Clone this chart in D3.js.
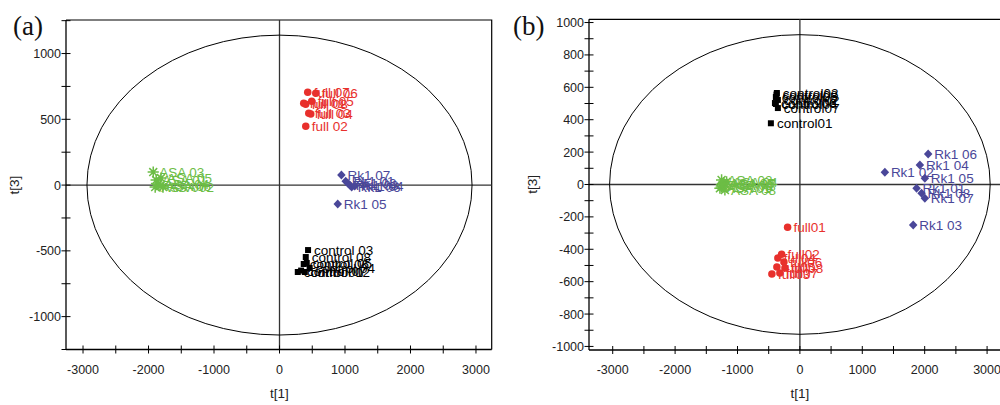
<!DOCTYPE html>
<html>
<head>
<meta charset="utf-8">
<script src="https://cdn.jsdelivr.net/npm/d3@7"></script>
<style>
  html, body { margin: 0; padding: 0; background: #fff; }
  svg { display: block; font-family: "Liberation Sans", Arial, sans-serif; }
</style>
</head>
<body>
<svg id="chart" width="1000" height="405"></svg>
<script>
// ---- Panel (a): score values t[1] / t[3] ----
const aFullNames   = ["full 01","full 03","full 05","full 08","full 04","full 07","full 02","full 06"];
const aFullT1      = [370, 447, 492, 400, 477, 431, 401, 554];
const aFullT3      = [623, 547, 638, 615, 540, 706, 448, 699];

const aRkNames     = ["Rk1 01","Rk1 02","Rk1 03","Rk1 06","Rk1 04","Rk1 05","Rk1 07"];
const aRkT1        = [1011, 1041, 1072, 1102, 1148, 889, 945];
const aRkT3        = [30, 15, 0, -15, -8, -144, 76];

const aAsaNames    = ["ASA 01","ASA 04","ASA 06","ASA 07","ASA 02","ASA 05","ASA 03"];
const aAsaT1       = [-1883, -1852, -1825, -1898, -1779, -1810, -1928];
const aAsaT3       = [38, 8, -8, -15, -15, 53, 99];

const aCtrlNames   = ["control 01","control 04","control 06","control 07","control 02","control 05","control 08","control 03"];
const aCtrlT1      = [279, 460, 370, 330, 386, 416, 401, 436];
const aCtrlT3      = [-661, -630, -600, -650, -661, -592, -547, -494];

// ---- Panel (b) ----
const bCtrlNames   = ["control01","control04","control06","control08","control05","control07","control02","control03"];
const bCtrlT1      = [-465, -385, -400, -375, -385, -353, -353, -369];
const bCtrlT3      = [378, 497, 503, 555, 540, 472, 522, 565];

const bRkNames     = ["Rk1 01","Rk1 02","Rk1 03","Rk1 04","Rk1 05","Rk1 06","Rk1 08","Rk1 07"];
const bRkT1        = [1870, 1362, 1816, 1923, 2003, 2056, 1950, 2003];
const bRkT3        = [-23, 75, -250, 120, 38, 188, -54, -85];

const bAsaNames    = ["ASA 01","ASA 02","ASA 04","ASA 05","ASA 06","ASA 07","ASA 03","ASA 08"];
const bAsaT1       = [-1282, -1239, -1175, -1220, -1260, -1202, -1255, -1202];
const bAsaT3       = [-23, -3, 17, 10, -15, 0, 28, -34];

const bFullNames   = ["full01","full04","full05","full07","full08","full03","full06","full02"];
const bFullT1      = [-197, -353, -369, -321, -240, -449, -256, -293];
const bFullT3      = [-264, -454, -509, -546, -515, -552, -478, -431];

// Hotelling T2 ellipse radii (t[1], t[3])
const aEllipse = [2940, 1140];
const bEllipse = [3050, 925];

const COLORS = { full: "#e8302c", rk: "#4a4799", asa: "#6cbd45", ctrl: "#000000" };

const svg = d3.select("#chart");

// eight-armed asterisk symbol
const asterisk = {
  draw(ctx, size) {
    const r = Math.sqrt(size) * 0.7;
    for (let i = 0; i < 4; i++) {
      const a = i * Math.PI / 4;
      ctx.moveTo(-r * Math.cos(a), -r * Math.sin(a));
      ctx.lineTo(r * Math.cos(a), r * Math.sin(a));
    }
  }
};

// square-proportioned diamond
const diamond = {
  draw(ctx, size) {
    const r = Math.sqrt(size / 2);
    ctx.moveTo(0, -r);
    ctx.lineTo(r * 0.95, 0);
    ctx.lineTo(0, r);
    ctx.lineTo(-r * 0.95, 0);
    ctx.closePath();
  }
};

function drawPanel(cfg) {
  const g = svg.append("g");
  const x = d3.scaleLinear().domain(cfg.xDomain).range(cfg.xRange);
  const y = d3.scaleLinear().domain(cfg.yDomain).range(cfg.yRange);
  const [x0, x1] = cfg.xRange, [y0, y1] = cfg.yRange; // y0 bottom, y1 top

  // frame: top and right edges
  g.append("path")
    .attr("d", `M${x0},${y1}H${x1}V${y0}`)
    .attr("fill", "none").attr("stroke", "#000").attr("stroke-width", 1.2);

  // crosshair through the origin
  g.append("line").attr("x1", x(0)).attr("x2", x(0)).attr("y1", y1).attr("y2", y0)
    .attr("stroke", "#333").attr("stroke-width", 1.3);
  g.append("line").attr("x1", x0).attr("x2", x1).attr("y1", y(0)).attr("y2", y(0))
    .attr("stroke", "#333").attr("stroke-width", 1.3);

  // confidence ellipse
  g.append("ellipse")
    .attr("cx", x(0)).attr("cy", y(0))
    .attr("rx", x(cfg.ellipse[0]) - x(0))
    .attr("ry", y(0) - y(cfg.ellipse[1]))
    .attr("fill", "none").attr("stroke", "#000").attr("stroke-width", 1);

  // x axis (cross ticks)
  g.append("line").attr("x1", x0).attr("x2", x1).attr("y1", y0).attr("y2", y0)
    .attr("stroke", "#000").attr("stroke-width", 1.3);
  const xt = d3.range(Math.ceil(cfg.xDomain[0] / 500) * 500, cfg.xDomain[1] + 1, 500);
  g.selectAll(".xt").data(xt).join("line")
    .attr("x1", d => x(d)).attr("x2", d => x(d)).attr("y1", y0 - 4).attr("y2", y0 + 4)
    .attr("stroke", "#000").attr("stroke-width", 1);
  g.selectAll(".xl").data(xt.filter(d => d % 1000 === 0)).join("text")
    .attr("x", d => x(d)).attr("y", y0 + 24)
    .attr("text-anchor", "middle").attr("font-size", 12.5).attr("fill", "#222")
    .text(d => d);

  // y axis (cross ticks)
  g.append("line").attr("x1", x0).attr("x2", x0).attr("y1", y0).attr("y2", y1)
    .attr("stroke", "#000").attr("stroke-width", 1.3);
  const yt = d3.range(Math.ceil(cfg.yDomain[0] / cfg.yMinor) * cfg.yMinor, cfg.yDomain[1] + 1, cfg.yMinor);
  g.selectAll(".yt").data(yt).join("line")
    .attr("x1", x0 - 4.5).attr("x2", x0 + 4.5).attr("y1", d => y(d)).attr("y2", d => y(d))
    .attr("stroke", "#000").attr("stroke-width", 1);
  g.selectAll(".yl").data(yt.filter(d => d % cfg.yMajor === 0)).join("text")
    .attr("x", x0 - 5).attr("y", d => y(d) + 4.5)
    .attr("text-anchor", "end").attr("font-size", 12.5).attr("fill", "#222")
    .text(d => d);

  // axis titles and panel letter
  g.append("text").attr("x", x(0)).attr("y", y0 + 48)
    .attr("text-anchor", "middle").attr("font-size", 13.5).attr("fill", "#222").text("t[1]");
  g.append("text").attr("transform", `translate(${cfg.yTitleX},${y(0)}) rotate(-90)`)
    .attr("text-anchor", "middle").attr("font-size", 13.5).attr("fill", "#222").text("t[3]");
  g.append("text").attr("x", cfg.letterX).attr("y", 35)
    .attr("font-family", "'Liberation Serif', 'Times New Roman', serif")
    .attr("font-size", 27).attr("fill", "#111").text(cfg.letter);

  // groups of scores
  cfg.groups.forEach(grp => {
    const pts = grp.names.map((n, i) => ({ name: n, t1: grp.t1[i], t3: grp.t3[i] }));
    const sym = d3.symbol().type(grp.type).size(grp.size);
    g.selectAll(null).data(pts).join("path")
      .attr("transform", d => `translate(${x(d.t1)},${y(d.t3)})`)
      .attr("d", sym)
      .attr("fill", grp.type === asterisk ? "none" : grp.color)
      .attr("stroke", grp.type === asterisk ? grp.color : "none")
      .attr("stroke-width", 1.5);
    g.selectAll(null).data(pts).join("text")
      .attr("x", d => x(d.t1) + 6).attr("y", d => y(d.t3) + 5)
      .attr("font-size", 13.5).attr("fill", grp.color)
      .text(d => d.name);
  });
}

drawPanel({
  letter: "(a)", letterX: 13, yTitleX: 19,
  xDomain: [-3260, 3240], xRange: [66, 491.7],
  yDomain: [-1250, 1255], yRange: [349.5, 20],
  yMinor: 250, yMajor: 500, ellipse: aEllipse,
  groups: [
    { names: aCtrlNames, t1: aCtrlT1, t3: aCtrlT3, type: d3.symbolSquare, size: 36, color: COLORS.ctrl },
    { names: aAsaNames, t1: aAsaT1, t3: aAsaT3, type: asterisk, size: 64, color: COLORS.asa },
    { names: aRkNames, t1: aRkT1, t3: aRkT3, type: diamond, size: 40, color: COLORS.rk },
    { names: aFullNames, t1: aFullT1, t3: aFullT3, type: d3.symbolCircle, size: 44, color: COLORS.full }
  ]
});

drawPanel({
  letter: "(b)", letterX: 513, yTitleX: 537,
  xDomain: [-3380, 3300], xRange: [589, 1005.8],
  yDomain: [-1022, 1020], yRange: [350, 19.3],
  yMinor: 100, yMajor: 200, ellipse: bEllipse,
  groups: [
    { names: bCtrlNames, t1: bCtrlT1, t3: bCtrlT3, type: d3.symbolSquare, size: 36, color: COLORS.ctrl },
    { names: bAsaNames, t1: bAsaT1, t3: bAsaT3, type: asterisk, size: 64, color: COLORS.asa },
    { names: bRkNames, t1: bRkT1, t3: bRkT3, type: diamond, size: 40, color: COLORS.rk },
    { names: bFullNames, t1: bFullT1, t3: bFullT3, type: d3.symbolCircle, size: 44, color: COLORS.full }
  ]
});
</script>
</body>
</html>
